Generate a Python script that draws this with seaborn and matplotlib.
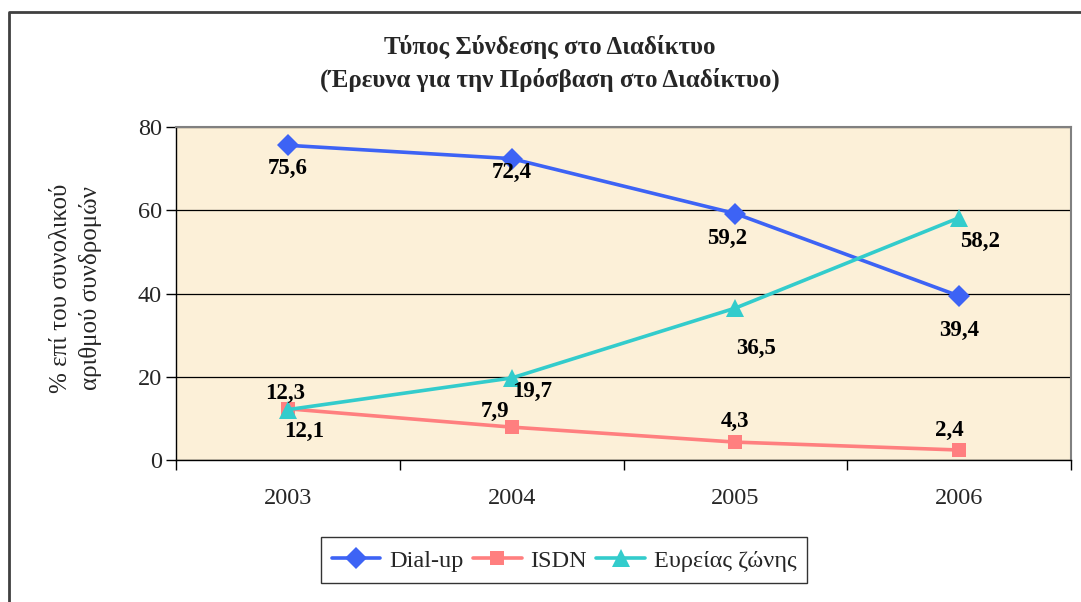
import pandas as pd
import matplotlib
matplotlib.use('Agg')
import matplotlib.pyplot as plt
import seaborn as sns
from matplotlib.lines import Line2D

# Data
years = ['2003', '2004', '2005', '2006']
series_names = ['Dial-up', 'ISDN', 'Ευρείας ζώνης']
dialup = [75.6, 72.4, 59.2, 39.4]
isdn = [12.3, 7.9, 4.3, 2.4]
broadband = [12.1, 19.7, 36.5, 58.2]

title_lines = ['Τύπος Σύνδεσης στο Διαδίκτυο', '(Έρευνα για την Πρόσβαση στο Διαδίκτυο)']
ylabel = '% επί του συνολικού\nαριθμού συνδρομών'

colors = ['#3D63F5', '#FF7F7F', '#33CCCC']
markers = ['D', 's', '^']
marker_sizes = [11, 10, 13]

# label offsets (in points) for each value label
offsets = [
    [(0, -17), (0, -10), (-6, -18), (0, -25)],
    [(-2, 11), (-12, 11), (0, 15), (-7, 14)],
    [(12, -16), (15, -10), (15, -29), (15, -17)],
]

sns.set_theme(style='white')
plt.rcParams['font.family'] = ['Liberation Serif', 'DejaVu Serif']

df = pd.DataFrame({
    'pos': list(range(len(years))) * 3,
    'value': dialup + isdn + broadband,
    'series': [s for s in series_names for _ in years],
})

fig = plt.figure(figsize=(10.81, 6.02), dpi=100)
ax = fig.add_axes([176 / 1081, 1 - 460 / 602, (1071 - 176) / 1081, (460 - 127) / 602])
ax.set_facecolor('#FCF0D8')

for i, name in enumerate(series_names):
    sub = df[df['series'] == name]
    sns.lineplot(data=sub, x='pos', y='value', ax=ax, color=colors[i], marker=markers[i],
                 markersize=marker_sizes[i], markeredgewidth=0, linewidth=2.6,
                 label=name, legend=False, zorder=3)
    for j, (x, y) in enumerate(zip(sub['pos'], sub['value'])):
        dx, dy = offsets[i][j]
        ax.annotate(f'{y:.1f}'.replace('.', ','), (x, y), xytext=(dx, dy),
                    textcoords='offset points', ha='center', va='center',
                    fontsize=16.5, fontweight='bold', color='black', zorder=4)

ax.set_xlim(-0.5, len(years) - 0.5)
ax.set_ylim(0, 80)
ax.set_yticks([0, 20, 40, 60, 80])
ax.set_xticks([p - 0.5 for p in range(len(years) + 1)], minor=False)
ax.set_xticklabels([])
ax.set_xticks(range(len(years)), minor=True)
ax.set_xticklabels(years, minor=True)
ax.tick_params(axis='x', which='major', length=7, width=1, color='black', direction='out', bottom=True)
ax.tick_params(axis='x', which='minor', length=0, pad=20, labelsize=17.5)
ax.tick_params(axis='y', length=7, width=1, color='black', direction='out', left=True, labelsize=17.5, pad=3)
ax.yaxis.grid(True, color='black', linewidth=0.9)
ax.set_axisbelow(True)
ax.set_xlabel('')
ax.set_ylabel('')

for side in ['top', 'right']:
    ax.spines[side].set_color('#808080')
    ax.spines[side].set_linewidth(1.5)
for side in ['left', 'bottom']:
    ax.spines[side].set_color('black')
    ax.spines[side].set_linewidth(1)

fig.text(550 / 1081, 1 - 47 / 602, title_lines[0], ha='center', va='center',
         fontsize=18, fontweight='bold')
fig.text(550 / 1081, 1 - 80 / 602, title_lines[1], ha='center', va='center',
         fontsize=18, fontweight='bold')
fig.text(76 / 1081, 1 - 288 / 602, ylabel, rotation=90, ha='center', va='center',
         fontsize=18, linespacing=1.4)

handles = [Line2D([], [], color=colors[i], marker=markers[i], markersize=marker_sizes[i],
                  markeredgewidth=0, linewidth=2.6) for i in range(3)]
leg = fig.legend(handles, series_names, loc='center', bbox_to_anchor=(564 / 1081, 1 - 560 / 602),
                 ncol=3, fontsize=17.5, frameon=True, fancybox=False, handlelength=2.0,
                 columnspacing=0.4, handletextpad=0.35, borderpad=0.45, borderaxespad=0,
                 handleheight=0.9)
leg.get_frame().set_edgecolor('black')
leg.get_frame().set_linewidth(1)

# outer chart frame (left and top edges visible)
fig.add_artist(Line2D([9 / 1081, 9 / 1081, 1.0], [0, 1 - 12 / 602, 1 - 12 / 602],
                      transform=fig.transFigure, color='#404040', linewidth=2))

fig.savefig('out.png', dpi=100)
